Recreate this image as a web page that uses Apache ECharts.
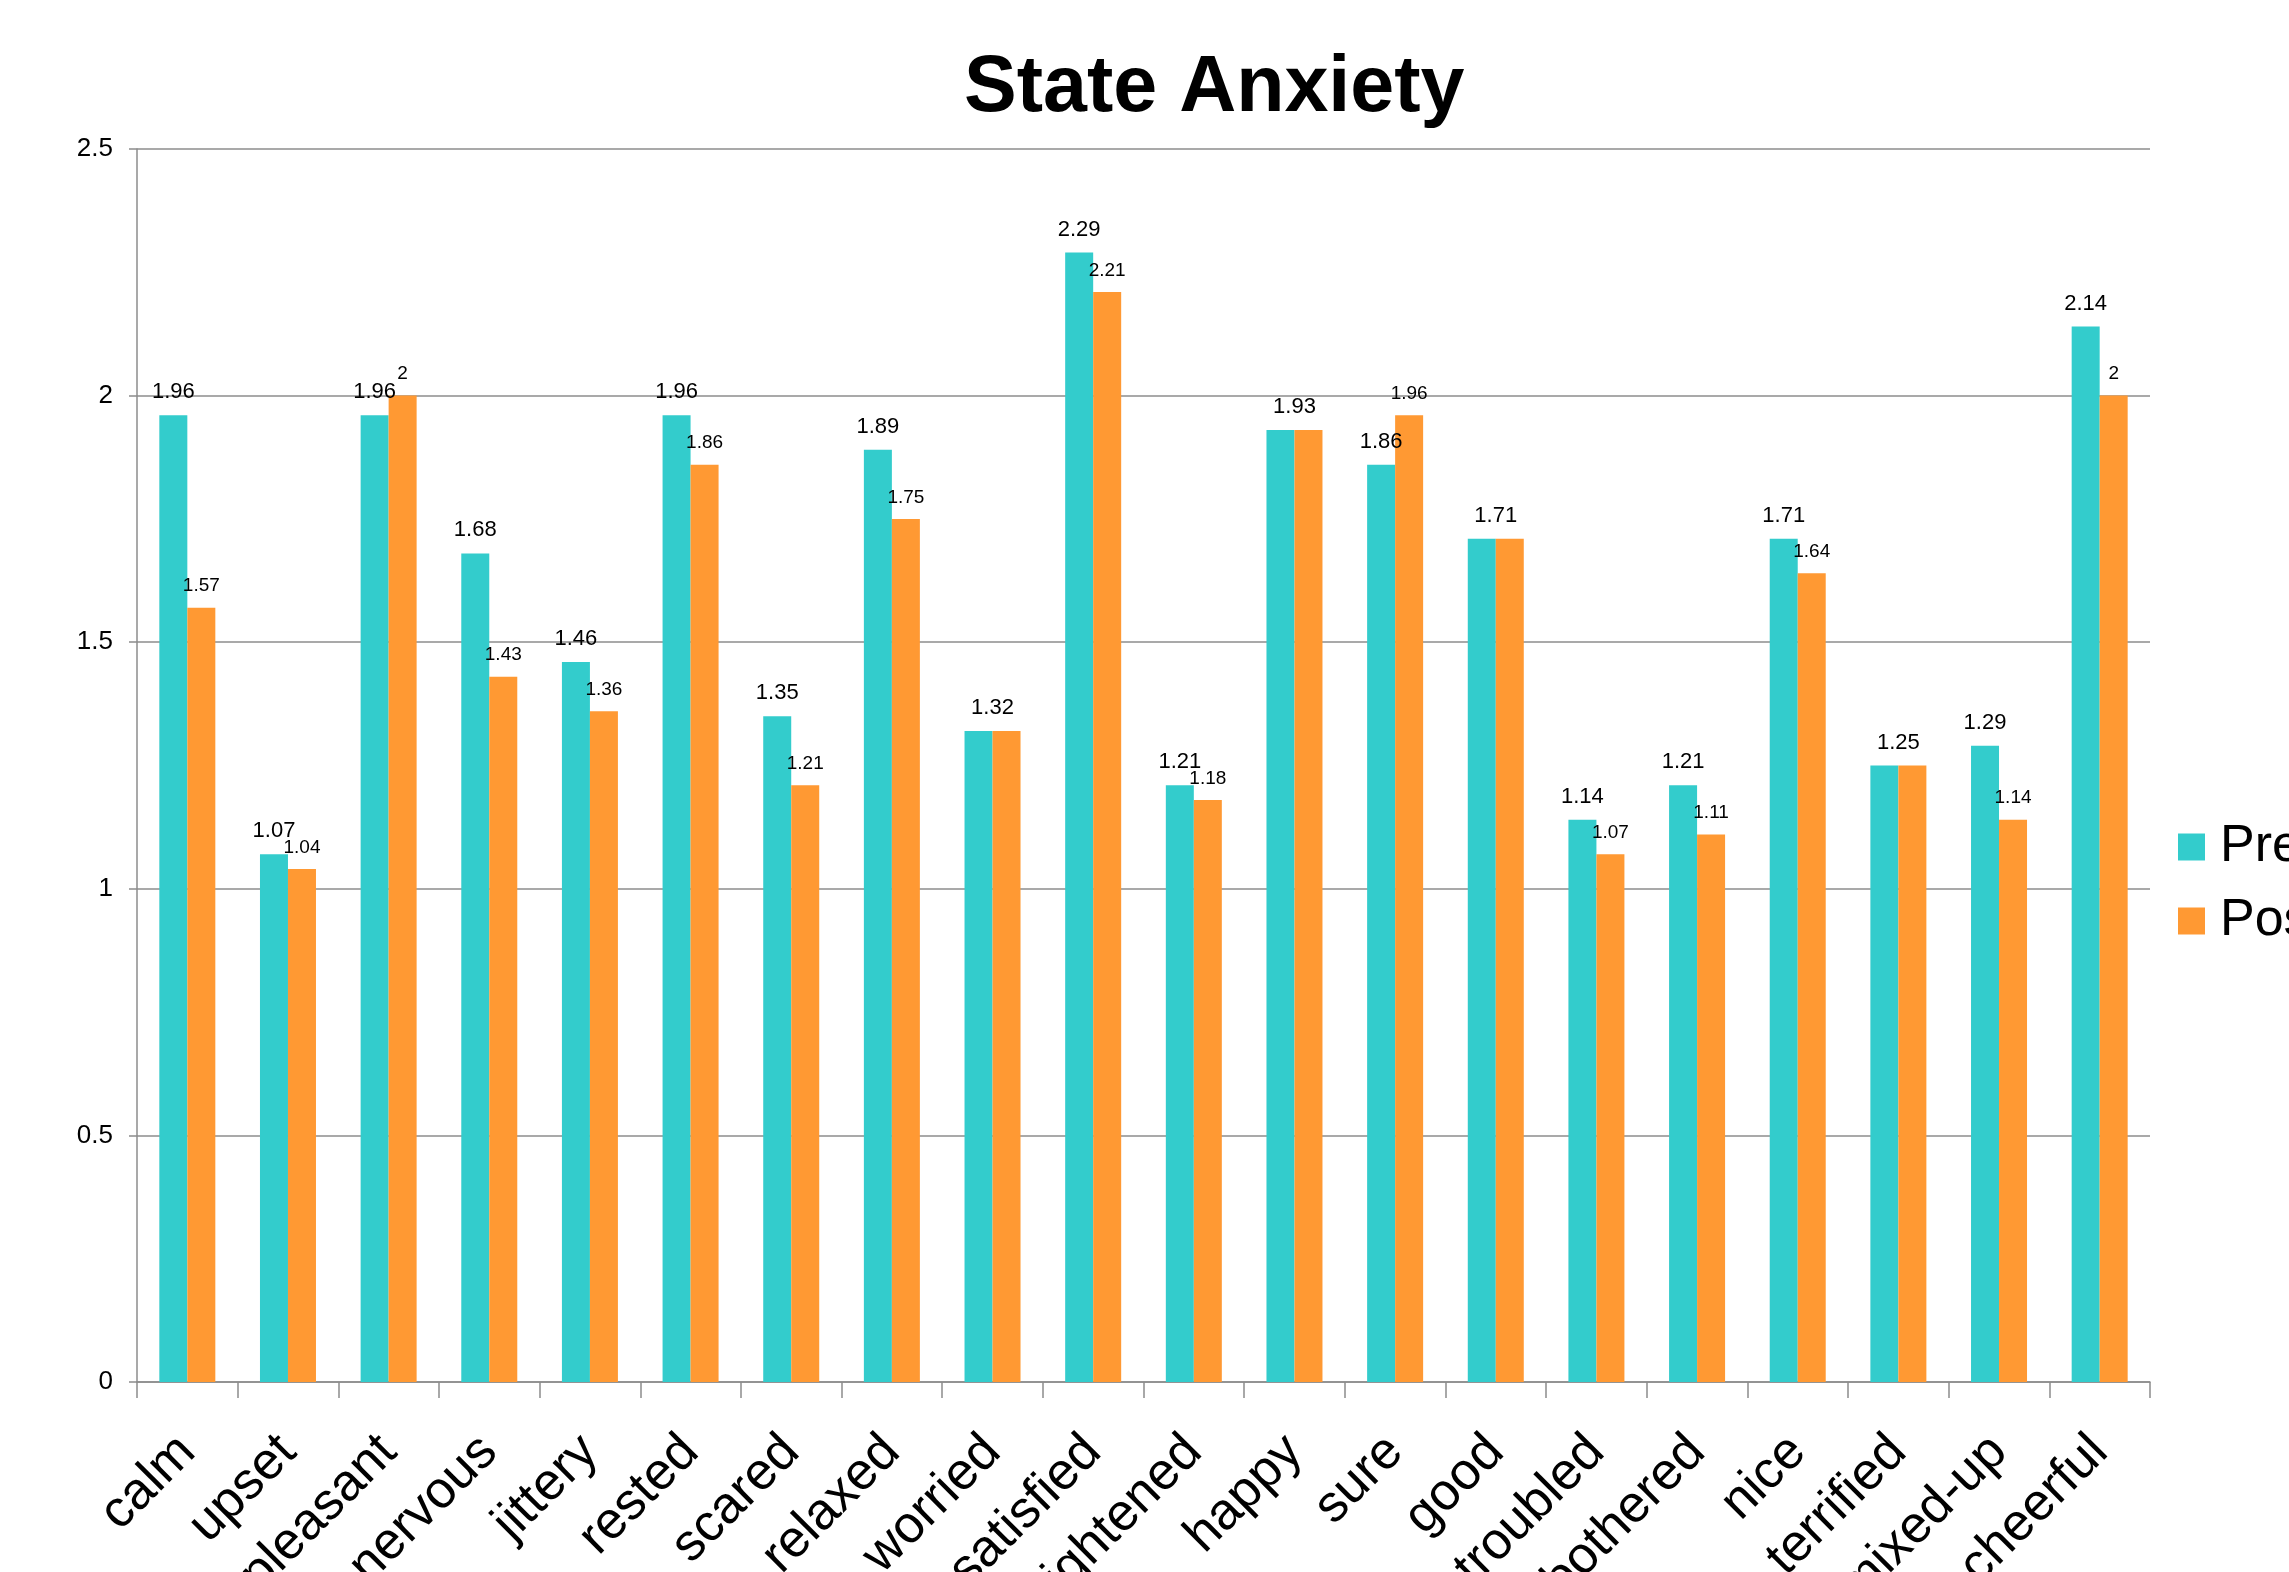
<!DOCTYPE html>
<html>
<head>
<meta charset="utf-8">
<script src="https://cdn.jsdelivr.net/npm/echarts@6/dist/echarts.min.js"></script>
<style>
  html, body { margin: 0; padding: 0; background: #ffffff; }
  #chart { width: 2289px; height: 1572px; }
</style>
</head>
<body>
<div id="chart"></div>
<script>
const categories = ['calm', 'upset', 'pleasant', 'nervous', 'jittery', 'rested', 'scared', 'relaxed', 'worried', 'satisfied',
  'frightened', 'happy', 'sure', 'good', 'troubled', 'bothered', 'nice', 'terrified', 'mixed-up', 'cheerful'];
const preValues = [1.96, 1.07, 1.96, 1.68, 1.46, 1.96, 1.35, 1.89, 1.32, 2.29,
  1.21, 1.93, 1.86, 1.71, 1.14, 1.21, 1.71, 1.25, 1.29, 2.14];
const postValues = [1.57, 1.04, 2, 1.43, 1.36, 1.86, 1.21, 1.75, 1.32, 2.21,
  1.18, 1.93, 1.96, 1.71, 1.07, 1.11, 1.64, 1.25, 1.14, 2];
const yTicks = { min: 0, max: 2.5, interval: 0.5 };
const seriesNames = ['Pre', 'Post'];

const FONT = '"Liberation Sans", Arial, sans-serif';
const BAR_W = 28;
const preData = preValues.map((v, i) => {
  const same = v === postValues[i];
  return same ? { value: v, label: { offset: [BAR_W / 2, 0] } } : { value: v };
});
const postData = postValues.map((v, i) => {
  const same = v === preValues[i];
  return same ? { value: v, label: { show: false } } : { value: v };
});

const chart = echarts.init(document.getElementById('chart'), null, { renderer: 'canvas' });
chart.setOption({
  animation: false,
  backgroundColor: '#ffffff',
  title: {
    text: 'State Anxiety',
    left: 964,
    top: 50,
    padding: 0,
    textStyle: { fontFamily: FONT, fontSize: 79, fontWeight: 'bold', color: '#000' }
  },
  legend: {
    orient: 'vertical',
    left: 2178,
    top: 821,
    padding: 0,
    itemWidth: 27,
    itemHeight: 27,
    itemGap: 22,
    icon: 'rect',
    data: seriesNames,
    textStyle: { fontFamily: FONT, fontSize: 52, color: '#000', padding: [0, 0, 0, 10] }
  },
  grid: { left: 137, right: 139, top: 149, bottom: 190, containLabel: false, outerBoundsMode: 'none' },
  xAxis: {
    type: 'category',
    data: categories,
    boundaryGap: true,
    axisLine: { show: true, lineStyle: { color: '#8c8c8c', width: 1.5 } },
    axisTick: { show: true, length: 16, alignWithLabel: false, interval: 0, lineStyle: { color: '#8c8c8c', width: 1.5 } },
    axisLabel: {
      interval: 0,
      rotate: 45,
      margin: 62,
      fontFamily: FONT,
      fontSize: 52,
      color: '#000',
      hideOverlap: false
    }
  },
  yAxis: {
    type: 'value',
    min: yTicks.min,
    max: yTicks.max,
    interval: yTicks.interval,
    axisLine: { show: true, lineStyle: { color: '#8c8c8c', width: 1.5 } },
    axisTick: { show: true, length: 8, inside: false, lineStyle: { color: '#8c8c8c', width: 1.5 } },
    splitLine: { show: true, lineStyle: { color: '#8c8c8c', width: 1.5 } },
    axisLabel: { margin: 24, fontFamily: FONT, fontSize: 26, color: '#000' }
  },
  series: [
    {
      name: seriesNames[0],
      type: 'bar',
      data: preData,
      barWidth: BAR_W,
      barGap: '0%',
      itemStyle: { color: '#33CCCC' },
      label: { show: true, position: 'top', distance: 12, fontFamily: FONT, fontSize: 22, color: '#000' }
    },
    {
      name: seriesNames[1],
      type: 'bar',
      data: postData,
      barWidth: BAR_W,
      barGap: '0%',
      itemStyle: { color: '#FF9933' },
      label: { show: true, position: 'top', distance: 12, fontFamily: FONT, fontSize: 19, color: '#000' }
    }
  ]
});
</script>
</body>
</html>
